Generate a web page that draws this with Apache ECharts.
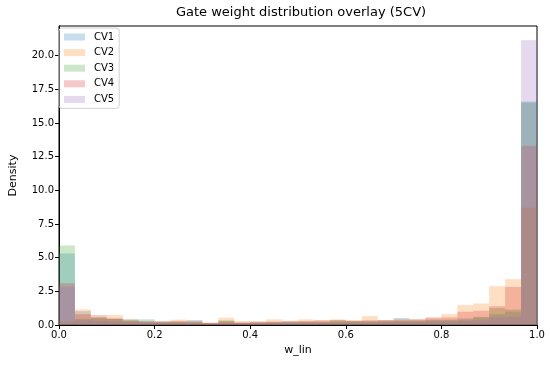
<!DOCTYPE html>
<html>
<head>
<meta charset="utf-8">
<script src="https://cdn.jsdelivr.net/npm/echarts@6/dist/echarts.min.js"></script>
<style>html,body{margin:0;padding:0;background:#fff;}#c{width:550px;height:365px;}</style>
</head>
<body>
<div id="c"></div>
<script>
// 30 equal bins over [0, 1]
const binCount = 30;
const seriesNames = ['CV1', 'CV2', 'CV3', 'CV4', 'CV5'];
const cv1 = [5.3, 1.03, 0.5, 0.45, 0.42, 0.42, 0.25, 0.25, 0.37, 0.15, 0.2, 0.15, 0.2, 0.2, 0.2, 0.25, 0.25, 0.25, 0.3, 0.3, 0.35, 0.52, 0.35, 0.4, 0.4, 0.5, 0.6, 0.8, 1.0, 16.6];
const cv2 = [0.25, 1.16, 0.6, 0.74, 0.42, 0.3, 0.3, 0.4, 0.3, 0.2, 0.54, 0.3, 0.27, 0.42, 0.3, 0.42, 0.35, 0.42, 0.37, 0.66, 0.37, 0.45, 0.42, 0.5, 0.81, 1.48, 1.6, 2.88, 3.4, 8.7];
const cv3 = [5.9, 0.45, 0.55, 0.45, 0.35, 0.25, 0.2, 0.2, 0.2, 0.12, 0.35, 0.15, 0.15, 0.2, 0.2, 0.2, 0.2, 0.35, 0.25, 0.25, 0.25, 0.3, 0.3, 0.35, 0.35, 0.4, 0.55, 1.25, 1.15, 16.5];
const cv4 = [3.1, 0.8, 0.74, 0.5, 0.3, 0.25, 0.25, 0.3, 0.25, 0.15, 0.3, 0.2, 0.25, 0.25, 0.3, 0.3, 0.35, 0.35, 0.3, 0.35, 0.35, 0.35, 0.42, 0.57, 0.57, 0.98, 1.06, 1.4, 2.83, 13.3];
const cv5 = [2.85, 0.35, 0.3, 0.25, 0.2, 0.15, 0.15, 0.15, 0.12, 0.1, 0.15, 0.12, 0.12, 0.15, 0.15, 0.15, 0.15, 0.15, 0.15, 0.15, 0.2, 0.2, 0.2, 0.25, 0.25, 0.3, 0.35, 0.55, 0.6, 21.15];
const xTicks = [0, 0.2, 0.4, 0.6, 0.8, 1.0];
const yTicks = [0, 2.5, 5, 7.5, 10, 12.5, 15, 17.5, 20];

const allValues = [cv1, cv2, cv3, cv4, cv5];
const colors = ['rgba(31,119,180,0.25)', 'rgba(255,127,14,0.25)', 'rgba(44,160,44,0.25)', 'rgba(214,39,40,0.25)', 'rgba(148,103,189,0.25)'];
const FONT = 'DejaVu Sans';

function toData(vals) {
  return vals.map((v, i) => [i / binCount, (i + 1) / binCount, v]);
}

const series = seriesNames.map((name, k) => ({
  name: name,
  type: 'custom',
  itemStyle: { color: colors[k] },
  encode: { x: [0, 1], y: 2 },
  data: toData(allValues[k]),
  renderItem: function (params, api) {
    const p0 = api.coord([api.value(0), 0]);
    const p1 = api.coord([api.value(1), api.value(2)]);
    return {
      type: 'rect',
      shape: { x: p0[0], y: p1[1], width: p1[0] - p0[0], height: p0[1] - p1[1] },
      style: { fill: colors[k] }
    };
  }
}));

const chart = echarts.init(document.getElementById('c'), null, { renderer: 'canvas' });
chart.setOption({
  animation: false,
  backgroundColor: '#fff',
  textStyle: { fontFamily: FONT },
  title: {
    text: 'Gate weight distribution overlay (5CV)',
    left: 296, top: 1, textAlign: 'center',
    textStyle: { fontFamily: FONT, fontSize: 13, fontWeight: 'normal', color: '#000' }
  },
  legend: {
    orient: 'vertical',
    left: 59, top: 28,
    data: seriesNames.map((n, k) => ({ name: n, icon: 'rect', itemStyle: { color: colors[k] } })),
    itemWidth: 21, itemHeight: 7, itemGap: 5.6,
    padding: [4, 5, 4, 5],
    borderColor: '#d0d0d0', borderWidth: 1, borderRadius: 3,
    textStyle: { fontFamily: FONT, fontSize: 10, color: '#000', padding: [0, 0, 0, 4] }
  },
  grid: { left: 55, right: 13, top: 26, bottom: 40, show: true, borderColor: '#000', borderWidth: 1 },
  xAxis: {
    type: 'value', min: 0, max: 1, interval: 0.2,
    name: 'w_lin', nameLocation: 'middle', nameGap: 18,
    nameTextStyle: { fontFamily: FONT, fontSize: 11, color: '#000' },
    axisLine: { show: true, lineStyle: { color: '#000', width: 1 } },
    axisTick: { show: true, inside: false, length: 4, lineStyle: { color: '#000' } },
    axisLabel: { fontFamily: FONT, fontSize: 10, color: '#000', margin: 5, formatter: v => v.toFixed(1) },
    splitLine: { show: false }
  },
  yAxis: {
    type: 'value', min: 0, max: 22.2, interval: 2.5,
    name: 'Density', nameLocation: 'middle', nameGap: 40, nameRotate: 90,
    nameTextStyle: { fontFamily: FONT, fontSize: 11, color: '#000' },
    axisLine: { show: true, lineStyle: { color: '#000', width: 1 } },
    axisTick: { show: true, inside: false, length: 4, lineStyle: { color: '#000' } },
    axisLabel: { fontFamily: FONT, fontSize: 10, color: '#000', margin: 5, showMaxLabel: false,
      formatter: v => (yTicks.indexOf(v) >= 0 ? v.toFixed(1) : '') },
    splitLine: { show: false }
  },
  series: series
});
</script>
</body>
</html>
